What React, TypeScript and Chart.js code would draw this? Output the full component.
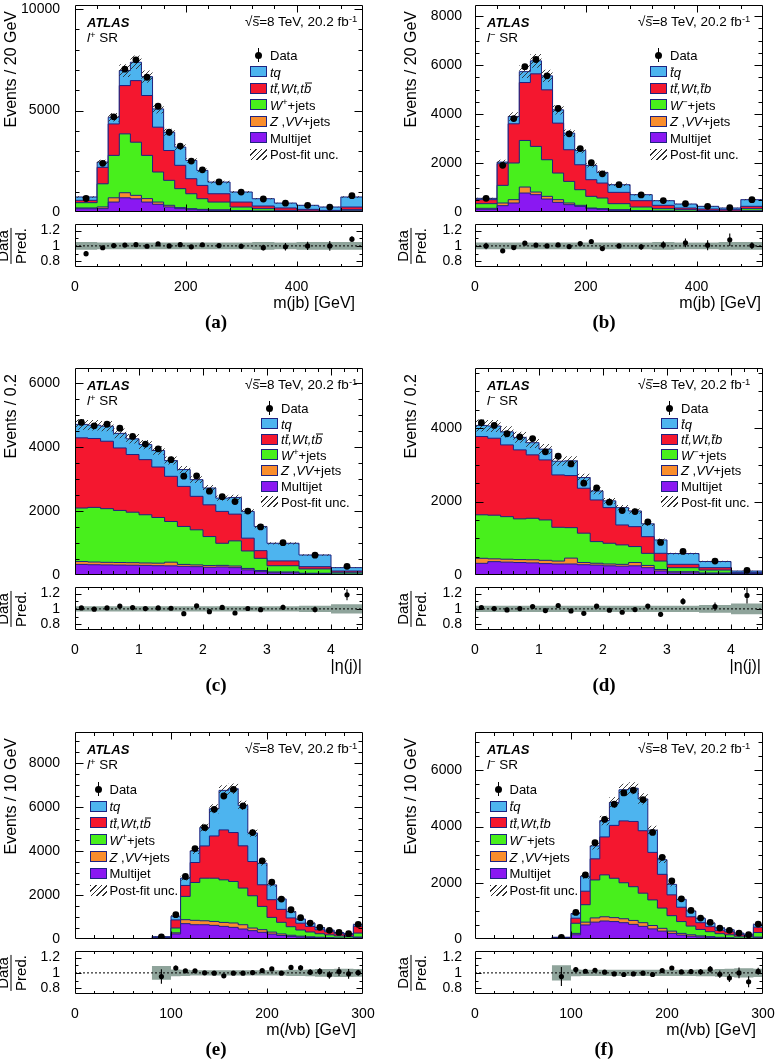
import React, { useEffect, useRef } from "react";
import { Chart, registerables } from "chart.js";

Chart.register(...registerables);

const SANS = "'Liberation Sans', Arial, Helvetica, sans-serif";
const SERIF = "'Liberation Serif', 'Times New Roman', Times, serif";
Chart.defaults.font.family = SANS;

// ---------------- binning ----------------
const EDGES_MJB = [0, 40, 60, 80, 100, 120, 140, 160, 180, 200, 220, 240, 280, 320, 360, 400, 440, 480, 520];
const EDGES_ETA = [0, 0.2, 0.4, 0.6, 0.8, 1.0, 1.2, 1.4, 1.6, 1.8, 2.0, 2.2, 2.4, 2.6, 2.8, 3.0, 3.5, 4.0, 4.5];
const EDGES_MLVB = [80, 100, 110, 120, 130, 140, 150, 160, 170, 180, 190, 200, 210, 220, 230, 240, 250, 260, 270, 280, 290, 300];

// ---------------- (a) l+ SR, m(jb) ----------------
const A_MULTIJET = [160, 165, 490, 700, 650, 490, 380, 250, 165, 115, 100, 80, 50, 35, 25, 15, 10, 40];
const A_ZVV = [40, 85, 210, 250, 170, 170, 110, 80, 50, 50, 30, 30, 20, 15, 10, 10, 10, 20];
const A_WJETS = [260, 1140, 2090, 2900, 2620, 2130, 1480, 1230, 935, 735, 525, 380, 175, 115, 45, 25, 20, 55];
const A_TOP = [115, 810, 1550, 2380, 3035, 2950, 2210, 1470, 1150, 740, 655, 410, 245, 130, 120, 80, 40, 130];
const A_TQ = [165, 260, 330, 740, 905, 930, 900, 900, 900, 900, 740, 575, 495, 360, 240, 200, 165, 495];
const A_DATA = [665, 2400, 4690, 7040, 7500, 6640, 5210, 3930, 3250, 2510, 2080, 1480, 980, 640, 435, 330, 245, 805];
const A_UNC = [0.05, 0.045, 0.045, 0.045, 0.045, 0.045, 0.045, 0.045, 0.045, 0.045, 0.045, 0.045, 0.045, 0.05, 0.045, 0.05, 0.05, 0.05];

// ---------------- (b) l- SR, m(jb) ----------------
const B_MULTIJET = [110, 258, 367, 774, 707, 530, 394, 300, 231, 136, 109, 68, 40, 30, 20, 12, 8, 30];
const B_ZVV = [40, 109, 136, 245, 108, 109, 109, 67, 41, 27, 27, 27, 20, 15, 10, 8, 7, 20];
const B_WJETS = [190, 720, 1497, 1901, 1862, 1494, 1087, 883, 638, 476, 435, 245, 144, 91, 65, 40, 25, 86];
const B_TOP = [163, 883, 1600, 2365, 2963, 2853, 2038, 1291, 1019, 679, 611, 462, 258, 136, 68, 62, 55, 95];
const B_TQ = [54, 68, 300, 445, 530, 571, 543, 679, 585, 584, 435, 312, 245, 190, 163, 109, 68, 272];
const B_DATA = [557, 1906, 3814, 5931, 6226, 5557, 4225, 3191, 2589, 2010, 1560, 1114, 698, 468, 339, 233, 176, 505];
const B_UNC = [0.045, 0.045, 0.045, 0.045, 0.045, 0.045, 0.045, 0.045, 0.045, 0.045, 0.045, 0.045, 0.045, 0.05, 0.045, 0.045, 0.05, 0.05];

// ---------------- (c) l+ SR, |eta(j)| ----------------
const C_MULTIJET = [330, 320, 315, 310, 305, 300, 290, 285, 270, 260, 240, 250, 230, 160, 105, 70, 40, 20];
const C_ZVV = [90, 85, 80, 80, 80, 75, 80, 115, 60, 55, 55, 50, 50, 45, 35, 25, 15, 10];
const C_WJETS = [1670, 1705, 1675, 1625, 1575, 1505, 1425, 1270, 1185, 1095, 905, 690, 785, 545, 380, 195, 135, 55];
const C_TOP = [2190, 2150, 2105, 1950, 1800, 1720, 1575, 1410, 1250, 1045, 990, 995, 835, 400, 240, 150, 70, 40];
const C_TQ = [420, 415, 470, 455, 490, 470, 515, 490, 525, 520, 525, 415, 520, 835, 755, 550, 365, 105];
const C_DATA = [4760, 4655, 4705, 4580, 4325, 4085, 3935, 3600, 3085, 3095, 2615, 2445, 2290, 1995, 1500, 1010, 620, 272];
const C_UNC = [0.035, 0.035, 0.035, 0.035, 0.035, 0.035, 0.035, 0.035, 0.035, 0.035, 0.035, 0.035, 0.035, 0.035, 0.035, 0.035, 0.04, 0.06];

// ---------------- (d) l- SR, |eta(j)| ----------------
const D_MULTIJET = [318, 364, 350, 340, 330, 310, 300, 300, 280, 270, 250, 240, 250, 200, 110, 60, 35, 12];
const D_ZVV = [137, 76, 80, 80, 85, 90, 80, 160, 60, 50, 50, 50, 90, 60, 40, 30, 20, 8];
const D_WJETS = [1185, 1190, 1160, 1110, 1130, 1100, 920, 830, 800, 590, 565, 530, 435, 330, 230, 110, 80, 20];
const D_TOP = [2133, 2097, 1955, 1879, 1728, 1636, 1427, 1419, 1224, 1135, 971, 544, 543, 454, 211, 91, 65, 24];
const D_TQ = [302, 333, 355, 341, 332, 294, 373, 401, 291, 245, 184, 471, 427, 350, 364, 294, 168, 44];
const D_DATA = [4148, 4076, 3849, 3765, 3717, 3355, 3236, 3026, 2501, 2372, 1984, 1754, 1729, 1445, 887, 642, 379, 127];
const D_UNC = [0.04, 0.04, 0.04, 0.04, 0.04, 0.04, 0.04, 0.04, 0.04, 0.04, 0.04, 0.04, 0.04, 0.04, 0.04, 0.04, 0.05, 0.07];

// ---------------- (e) l+ SR, m(lvb) ----------------
const E_MULTIJET = [30, 230, 700, 650, 650, 620, 575, 530, 455, 380, 305, 225, 160, 120, 90, 70, 55, 40, 30, 25, 60];
const E_ZVV = [5, 50, 180, 200, 180, 180, 180, 200, 195, 120, 120, 90, 70, 50, 40, 30, 25, 20, 15, 10, 30];
const E_WJETS = [25, 220, 1060, 1725, 1940, 1970, 1940, 1890, 1670, 1470, 1060, 670, 530, 390, 280, 220, 160, 130, 95, 80, 180];
const E_TOP = [20, 370, 500, 910, 1470, 1925, 2275, 2230, 1925, 1560, 985, 805, 590, 400, 310, 250, 180, 140, 100, 85, 310];
const E_TQ = [25, 170, 335, 530, 835, 1240, 1800, 1995, 1840, 1300, 985, 675, 475, 285, 190, 150, 100, 75, 55, 45, 85];
const E_DATA = [100, 1106, 2848, 4121, 5076, 5909, 6515, 6818, 6061, 4848, 3561, 2591, 1818, 1333, 970, 727, 530, 394, 300, 242, 667];
const E_UNC = [0.09, 0.045, 0.04, 0.035, 0.035, 0.035, 0.035, 0.035, 0.035, 0.035, 0.035, 0.035, 0.035, 0.04, 0.04, 0.045, 0.05, 0.05, 0.055, 0.055, 0.05];

// ---------------- (f) l- SR, m(lvb) ----------------
const F_MULTIJET = [20, 150, 500, 600, 640, 620, 580, 520, 450, 360, 280, 200, 140, 100, 75, 60, 40, 30, 20, 15, 45];
const F_ZVV = [5, 50, 100, 150, 150, 140, 140, 140, 130, 120, 100, 80, 60, 50, 35, 25, 20, 15, 10, 10, 25];
const F_WJETS = [15, 360, 620, 1350, 1490, 1400, 1280, 1200, 1050, 910, 720, 550, 420, 310, 230, 175, 130, 105, 70, 55, 160];
const F_TOP = [10, 180, 480, 750, 1350, 1880, 2200, 2320, 2220, 1690, 1200, 740, 510, 330, 240, 180, 120, 105, 65, 55, 190];
const F_TQ = [13, 166, 532, 461, 582, 816, 1106, 1179, 1129, 791, 519, 372, 281, 208, 154, 123, 87, 74, 47, 38, 100];
const F_DATA = [60, 945, 2279, 3424, 4250, 4793, 5195, 5289, 4959, 3790, 2904, 2066, 1429, 1015, 744, 590, 390, 307, 212, 153, 531];
const F_UNC = [0.1, 0.045, 0.04, 0.04, 0.04, 0.04, 0.04, 0.04, 0.04, 0.04, 0.04, 0.04, 0.04, 0.04, 0.045, 0.045, 0.05, 0.055, 0.06, 0.06, 0.055];

// ---------------- tick labels ----------------
const X_TICKS_MJB = [0, 200, 400];
const X_TICKS_ETA = [0, 1, 2, 3, 4];
const X_TICKS_MLVB = [0, 100, 200, 300];
const Y_TICKS_A = [0, 5000, 10000];
const Y_TICKS_B = [0, 2000, 4000, 6000, 8000];
const Y_TICKS_C = [0, 2000, 4000, 6000];
const Y_TICKS_D = [0, 2000, 4000];
const Y_TICKS_E = [0, 2000, 4000, 6000, 8000];
const Y_TICKS_F = [0, 2000, 4000, 6000];
const RATIO_TICKS = [0.8, 1, 1.2];
const RATIO_TICK_LABELS = ["0.8", "1", "1.2"];
const RATIO_MINOR = [0.8, 0.9, 1.0, 1.1, 1.2];

const COLORS = {
  tq: "#4db4ef",
  top: "#f4172f",
  wjets: "#48ef1c",
  zvv: "#f98d2d",
  multijet: "#8a18f2",
  edge: "#1d2380",
  band: "#8fa49b",
};

// ---------------- layout ----------------
const FRAME_LEFT = [75, 475];
const FRAME_W = 288;
const CANVAS_LEFT = [0, 385];
const CANVAS_W = [380, 392];
const MAIN_TOP = [5, 368, 732];
const RATIO_TOP = [224, 587, 951];
const MAIN_H = 207;
const RATIO_H = 43;
const MAIN_CH = 5 + MAIN_H + 10;
const RATIO_CH = 6 + RATIO_H + 24;
const LEGEND_LAYOUT = {
  top: { dy: 50, sp: 16.5, sx: 175 },
  mid: { dy: 40, sp: 15.6, sx: 186 },
  left: { dy: 57.3, sp: 16.8, sx: 14.5 },
};

const PANELS = [
  { letter: "a", col: 0, row: 0, sign: "+", edges: EDGES_MJB, multijet: A_MULTIJET, zvv: A_ZVV, wjets: A_WJETS, top: A_TOP, tq: A_TQ, data: A_DATA, unc: A_UNC,
    xMin: 0, xMax: 520, xTicks: X_TICKS_MJB, xMinor: 40, yMax: 10200, yTicks: Y_TICKS_A, yMinor: 1000,
    yTitle: "Events / 20 GeV", xTitle: "mjb", xTitleRight: 355, legend: "top" },
  { letter: "b", col: 1, row: 0, sign: "-", edges: EDGES_MJB, multijet: B_MULTIJET, zvv: B_ZVV, wjets: B_WJETS, top: B_TOP, tq: B_TQ, data: B_DATA, unc: B_UNC,
    xMin: 0, xMax: 520, xTicks: X_TICKS_MJB, xMinor: 40, yMax: 8450, yTicks: Y_TICKS_B, yMinor: 500,
    yTitle: "Events / 20 GeV", xTitle: "mjb", xTitleRight: 761, legend: "top" },
  { letter: "c", col: 0, row: 1, sign: "+", edges: EDGES_ETA, multijet: C_MULTIJET, zvv: C_ZVV, wjets: C_WJETS, top: C_TOP, tq: C_TQ, data: C_DATA, unc: C_UNC,
    xMin: 0, xMax: 4.5, xTicks: X_TICKS_ETA, xMinor: 0.2, yMax: 6460, yTicks: Y_TICKS_C, yMinor: 500,
    yTitle: "Events / 0.2", xTitle: "eta", xTitleRight: 362, legend: "mid" },
  { letter: "d", col: 1, row: 1, sign: "-", edges: EDGES_ETA, multijet: D_MULTIJET, zvv: D_ZVV, wjets: D_WJETS, top: D_TOP, tq: D_TQ, data: D_DATA, unc: D_UNC,
    xMin: 0, xMax: 4.5, xTicks: X_TICKS_ETA, xMinor: 0.2, yMax: 5640, yTicks: Y_TICKS_D, yMinor: 500,
    yTitle: "Events / 0.2", xTitle: "eta", xTitleRight: 761, legend: "mid" },
  { letter: "e", col: 0, row: 2, sign: "+", edges: EDGES_MLVB, multijet: E_MULTIJET, zvv: E_ZVV, wjets: E_WJETS, top: E_TOP, tq: E_TQ, data: E_DATA, unc: E_UNC,
    xMin: 0, xMax: 300, xTicks: X_TICKS_MLVB, xMinor: 20, yMax: 9430, yTicks: Y_TICKS_E, yMinor: 500,
    yTitle: "Events / 10 GeV", xTitle: "mlvb", xTitleRight: 356, legend: "left" },
  { letter: "f", col: 1, row: 2, sign: "-", edges: EDGES_MLVB, multijet: F_MULTIJET, zvv: F_ZVV, wjets: F_WJETS, top: F_TOP, tq: F_TQ, data: F_DATA, unc: F_UNC,
    xMin: 0, xMax: 300, xTicks: X_TICKS_MLVB, xMinor: 20, yMax: 7360, yTicks: Y_TICKS_F, yMinor: 500,
    yTitle: "Events / 10 GeV", xTitle: "mlvb", xTitleRight: 756, legend: "left" },
];

function rangeTicks(a: number, b: number, s: number) {
  const r: number[] = [];
  for (let k = 0; a + k * s <= b + 1e-9; k++) r.push(+(a + k * s).toFixed(6));
  return r;
}

function makeFramePlugin(cfg: any) {
  return {
    id: "atlasFrame",
    afterDraw(chart: any) {
      const { ctx, chartArea: a, scales } = chart;
      const xs = scales.x;
      const ys = scales.y;
      const L = Math.round(a.left) + 0.5;
      const R = Math.round(a.right) - 0.5;
      const T = Math.round(a.top) + 0.5;
      const B = Math.round(a.bottom) - 0.5;
      ctx.save();
      ctx.strokeStyle = "#000";
      ctx.lineWidth = 1;
      ctx.setLineDash([]);
      ctx.beginPath();
      ctx.rect(L, T, R - L, B - T);
      const xt = (vals: number[], len: number) =>
        vals.forEach((v) => {
          const px = Math.round(xs.getPixelForValue(v)) + 0.5;
          if (px < L + 0.9 || px > R - 0.9) return;
          ctx.moveTo(px, B);
          ctx.lineTo(px, B - len);
          ctx.moveTo(px, T);
          ctx.lineTo(px, T + len);
        });
      const yt = (vals: number[], len: number) =>
        vals.forEach((v) => {
          const py = Math.round(ys.getPixelForValue(v)) + 0.5;
          if (py < T + 0.9 || py > B - 0.9) return;
          ctx.moveTo(L, py);
          ctx.lineTo(L + len, py);
          ctx.moveTo(R, py);
          ctx.lineTo(R - len, py);
        });
      xt(cfg.xMinor, cfg.xLen[1]);
      xt(cfg.xMajor, cfg.xLen[0]);
      yt(cfg.yMinor, cfg.yLen[1]);
      yt(cfg.yMajor, cfg.yLen[0]);
      ctx.stroke();
      ctx.restore();
    },
  };
}

function hatchPattern(ctx: CanvasRenderingContext2D) {
  const s = 5;
  const c = document.createElement("canvas");
  c.width = s;
  c.height = s;
  const g = c.getContext("2d") as CanvasRenderingContext2D;
  g.strokeStyle = "#2e2e2e";
  g.lineWidth = 0.9;
  g.beginPath();
  g.moveTo(0, s);
  g.lineTo(s, 0);
  g.moveTo(-1, 1);
  g.lineTo(1, -1);
  g.moveTo(s - 1, s + 1);
  g.lineTo(s + 1, s - 1);
  g.stroke();
  return ctx.createPattern(c, "repeat");
}

const SUP: any = { fontSize: "0.7em", verticalAlign: "0.5em", lineHeight: 0 };
// bar drawn just above a glyph (anti-particle / sqrt notation)
const OL = ({ children, top = "0.1em" }: any) => (
  <span style={{ position: "relative", display: "inline-block", lineHeight: 1 }}>
    {children}
    <span style={{ position: "absolute", left: "0.08em", right: "-0.04em", top, borderTop: "1px solid currentColor" }} />
  </span>
);

function Txt({ x, y, align = "left", size, style, children }: any) {
  const tx = align === "left" ? "0" : align === "right" ? "-100%" : "-50%";
  return (
    <div
      style={{
        position: "absolute",
        left: x,
        top: y,
        transform: `translate(${tx}, -50%)`,
        fontSize: size,
        lineHeight: 1,
        whiteSpace: "nowrap",
        ...style,
      }}
    >
      {children}
    </div>
  );
}

function legendLabels(sign: string) {
  const plus = sign === "+";
  return [
    "Data",
    plus ? <i>tq</i> : <i><OL top="0.16em">t</OL>q</i>,
    plus ? <i>t<OL top="0.16em">t</OL>,Wt,t<OL>b</OL></i> : <i>t<OL top="0.16em">t</OL>,Wt,<OL top="0.16em">t</OL>b</i>,
    <><i>W</i><sup style={SUP}>{plus ? "+" : "\u2212"}</sup>+jets</>,
    <><i>Z</i> ,<i>VV</i>+jets</>,
    "Multijet",
    "Post-fit unc.",
  ];
}

function xTitleNode(k: string) {
  if (k === "mjb") return <>m(jb) [GeV]</>;
  if (k === "eta") return <>|η(j)|</>;
  return <>m(<i>l</i>νb) [GeV]</>;
}

function Panel({ p }: any) {
  const mainRef = useRef<HTMLCanvasElement>(null);
  const ratioRef = useRef<HTMLCanvasElement>(null);
  const fl = FRAME_LEFT[p.col];
  const cl = CANVAS_LEFT[p.col];
  const cw = CANVAS_W[p.col];
  const ft = MAIN_TOP[p.row];
  const rt = RATIO_TOP[p.row];

  useEffect(() => {
    const n = p.data.length;
    const comps = [p.multijet, p.zvv, p.wjets, p.top, p.tq];
    const cum: number[][] = [];
    let run: number[] = new Array(n).fill(0);
    comps.forEach((c: number[]) => {
      run = run.map((v, i) => v + c[i]);
      cum.push(run);
    });
    const total = cum[4];
    const centers = p.edges.slice(0, -1).map((e: number, i: number) => (e + p.edges[i + 1]) / 2);
    const step = (vals: number[]) => {
      const pts = vals.map((v, i) => ({ x: p.edges[i], y: v }));
      pts.push({ x: p.edges[n], y: vals[n - 1] });
      return pts;
    };
    const errSeg = (vals: number[], errs: number[]) => {
      const pts: any[] = [];
      centers.forEach((c: number, i: number) => {
        pts.push({ x: c, y: vals[i] - errs[i] }, { x: c, y: vals[i] + errs[i] }, { x: c, y: null });
      });
      return pts;
    };
    const fills = [COLORS.multijet, COLORS.zvv, COLORS.wjets, COLORS.top, COLORS.tq];
    const histBase = { pointRadius: 0, pointHoverRadius: 0, borderWidth: 1, stepped: true, tension: 0 };

    const mctx = (mainRef.current as HTMLCanvasElement).getContext("2d") as CanvasRenderingContext2D;
    const pattern = hatchPattern(mctx);

    const mainSets: any[] = [
      { data: centers.map((c: number, i: number) => ({ x: c, y: p.data[i] })), showLine: false, pointRadius: 3.4,
        pointBackgroundColor: "#000", pointBorderColor: "#000", pointBorderWidth: 0, borderColor: "#000" },
      { data: errSeg(p.data, p.data.map((d: number) => Math.sqrt(d))), borderColor: "#000", borderWidth: 1.2, pointRadius: 0, fill: false },
      { ...histBase, data: step(total.map((v, i) => v * (1 + p.unc[i]))), borderWidth: 0, borderColor: "rgba(0,0,0,0)",
        backgroundColor: pattern, fill: "+1" },
      { ...histBase, data: step(total.map((v, i) => v * (1 - p.unc[i]))), borderWidth: 0, borderColor: "rgba(0,0,0,0)", fill: false },
      ...cum.map((c, k) => ({ ...histBase, data: step(c), borderColor: COLORS.edge, backgroundColor: fills[k], fill: "origin" })),
    ];

    const ratio = p.data.map((d: number, i: number) => d / total[i]);
    const rerr = p.data.map((d: number, i: number) => Math.sqrt(d) / total[i]);
    const ratioSets: any[] = [
      { data: centers.map((c: number, i: number) => ({ x: c, y: ratio[i] })), showLine: false, pointRadius: 2.6,
        pointBackgroundColor: "#000", pointBorderColor: "#000", pointBorderWidth: 0, borderColor: "#000" },
      { data: errSeg(ratio, rerr), borderColor: "#000", borderWidth: 1.1, pointRadius: 0, fill: false },
      { data: [{ x: p.xMin, y: 1 }, { x: p.xMax, y: 1 }], borderColor: "#000", borderWidth: 1, borderDash: [2, 2], pointRadius: 0, fill: false },
      { ...histBase, data: step(p.unc.map((u: number) => 1 + u)), borderWidth: 0, borderColor: "rgba(0,0,0,0)",
        backgroundColor: COLORS.band, fill: "+1" },
      { ...histBase, data: step(p.unc.map((u: number) => 1 - u)), borderWidth: 0, borderColor: "rgba(0,0,0,0)", fill: false },
    ];

    const yw = fl - cl;
    const rp = cw - yw - FRAME_W;
    const pad = p.col === 0 ? 7 : 5;
    const tickFont = { family: SANS, size: 14 };
    const fixY = (s: any) => {
      s.width = yw;
      s.paddingTop = 0;
      s.paddingBottom = 0;
      s.paddingLeft = 0;
      s.paddingRight = 0;
    };
    const fixX = (h: number) => (s: any) => {
      s.height = h;
      s.paddingTop = 0;
      s.paddingBottom = 0;
      s.paddingLeft = 0;
      s.paddingRight = 0;
    };
    const common: any = {
      animation: false,
      responsive: false,
      maintainAspectRatio: false,
      devicePixelRatio: 1,
      events: [],
      plugins: { legend: { display: false }, tooltip: { enabled: false } },
    };

    const mainChart = new Chart(mainRef.current as HTMLCanvasElement, {
      type: "line",
      data: { datasets: mainSets },
      options: {
        ...common,
        layout: { padding: { top: 5, bottom: 10, left: 0, right: rp } },
        scales: {
          x: { type: "linear", min: p.xMin, max: p.xMax, display: false, afterFit: fixX(0) },
          y: {
            type: "linear", min: 0, max: p.yMax,
            grid: { display: false }, border: { display: false },
            afterBuildTicks: (s: any) => { s.ticks = p.yTicks.map((v: number) => ({ value: v })); },
            ticks: { color: "#000", font: tickFont, padding: pad, autoSkip: false, callback: (v: any) => String(v) },
            afterFit: fixY,
          },
        },
      },
      plugins: [makeFramePlugin({
        xMajor: p.xTicks, xMinor: rangeTicks(p.xMin, p.xMax, p.xMinor),
        yMajor: p.yTicks, yMinor: rangeTicks(0, p.yMax, p.yMinor),
        xLen: [7, 3.5], yLen: [8, 4],
      })],
    } as any);

    const ratioChart = new Chart(ratioRef.current as HTMLCanvasElement, {
      type: "line",
      data: { datasets: ratioSets },
      options: {
        ...common,
        layout: { padding: { top: 6, bottom: 0, left: 0, right: rp } },
        scales: {
          x: {
            type: "linear", min: p.xMin, max: p.xMax,
            grid: { display: false }, border: { display: false },
            afterBuildTicks: (s: any) => { s.ticks = p.xTicks.map((v: number) => ({ value: v })); },
            ticks: { color: "#000", font: tickFont, padding: 4, autoSkip: false, maxRotation: 0, minRotation: 0, callback: (v: any) => String(v) },
            afterFit: fixX(24),
          },
          y: {
            type: "linear", min: 0.725, max: 1.285,
            grid: { display: false }, border: { display: false },
            afterBuildTicks: (s: any) => { s.ticks = RATIO_TICKS.map((v) => ({ value: v })); },
            ticks: { color: "#000", font: tickFont, padding: pad, autoSkip: false,
              callback: (v: any) => RATIO_TICK_LABELS[RATIO_TICKS.indexOf(v)] },
            afterFit: fixY,
          },
        },
      },
      plugins: [makeFramePlugin({
        xMajor: p.xTicks, xMinor: rangeTicks(p.xMin, p.xMax, p.xMinor),
        yMajor: RATIO_TICKS, yMinor: RATIO_MINOR,
        xLen: [5, 2.5], yLen: [6, 3],
      })],
    } as any);

    return () => {
      mainChart.destroy();
      ratioChart.destroy();
    };
  }, [p]);

  const lg = (LEGEND_LAYOUT as any)[p.legend];
  const labels = legendLabels(p.sign);
  const swFill = [null, COLORS.tq, COLORS.top, COLORS.wjets, COLORS.zvv, COLORS.multijet, "hatch"];
  const sx = fl + lg.sx;
  const yTitleCx = p.col === 0 ? 10.5 : 411;
  const letterX = p.col === 0 ? 216 : 604;

  return (
    <>
      <canvas ref={mainRef} width={cw} height={MAIN_CH}
        style={{ position: "absolute", left: cl, top: ft - 5, width: cw, height: MAIN_CH }} />
      <canvas ref={ratioRef} width={cw} height={RATIO_CH}
        style={{ position: "absolute", left: cl, top: rt - 6, width: cw, height: RATIO_CH }} />

      <Txt x={fl + 12} y={ft + 16.7} size={13} style={{ fontWeight: "bold", fontStyle: "italic" }}>ATLAS</Txt>
      <Txt x={fl + 12} y={ft + 33} size={13.5}>
        <i>l</i><sup style={SUP}>{p.sign === "+" ? "+" : "\u2212"}</sup> SR
      </Txt>
      <Txt x={fl + (p.col === 0 ? 170 : 163)} y={ft + 16.7} size={13.5}>
        √<OL top="0.12em">s</OL>=8 TeV, 20.2 fb<sup style={SUP}>-1</sup>
      </Txt>

      {labels.map((lab, k) => {
        const yc = ft + lg.dy + k * lg.sp;
        const f = swFill[k];
        let mark: any = null;
        if (f === null) {
          mark = (
            <>
              <div style={{ position: "absolute", left: sx + 8, top: yc - 7, width: 1, height: 14, background: "#000" }} />
              <div style={{ position: "absolute", left: sx + 5, top: yc - 3.5, width: 7, height: 7, borderRadius: "50%", background: "#000" }} />
            </>
          );
        } else if (f === "hatch") {
          mark = (
            <div style={{ position: "absolute", left: sx, top: yc - 5.5, width: 17, height: 11,
              background: "repeating-linear-gradient(135deg, #2e2e2e 0px, #2e2e2e 1px, transparent 1px, transparent 4px)" }} />
          );
        } else {
          mark = (
            <div style={{ position: "absolute", left: sx, top: yc - 5.5, width: 17, height: 11, background: f,
              border: `1px solid ${COLORS.edge}`, boxSizing: "border-box" }} />
          );
        }
        return (
          <React.Fragment key={k}>
            {mark}
            <Txt x={sx + 20} y={yc} size={13}>{lab}</Txt>
          </React.Fragment>
        );
      })}

      <div style={{ position: "absolute", left: yTitleCx - 9, top: ft + 6, width: 18, writingMode: "vertical-rl",
        transform: "rotate(180deg)", fontSize: 16, lineHeight: "18px", whiteSpace: "nowrap" }}>
        {p.yTitle}
      </div>

      <div style={{ position: "absolute", left: yTitleCx, top: rt + RATIO_H / 2, transform: "translate(-50%, -50%) rotate(-90deg)",
        fontSize: 15, lineHeight: 1, textAlign: "center", whiteSpace: "nowrap" }}>
        <div style={{ padding: "0 1px 1px" }}>Data</div>
        <div style={{ borderTop: "1px solid #000", paddingTop: 1 }}>Pred.</div>
      </div>

      <Txt x={p.xTitleRight} y={rt + RATIO_H + 36} align="right" size={16}>{xTitleNode(p.xTitle)}</Txt>
      <Txt x={letterX} y={rt + RATIO_H + 54} align="center" size={19} style={{ fontFamily: SERIF, fontWeight: "bold" }}>
        ({p.letter})
      </Txt>
    </>
  );
}

export default function App() {
  return (
    <div style={{ position: "absolute", left: 0, top: 0, width: 777, height: 1059, overflow: "hidden",
      background: "#fff", fontFamily: SANS, color: "#000" }}>
      {PANELS.map((p) => (
        <Panel key={p.letter} p={p} />
      ))}
    </div>
  );
}
